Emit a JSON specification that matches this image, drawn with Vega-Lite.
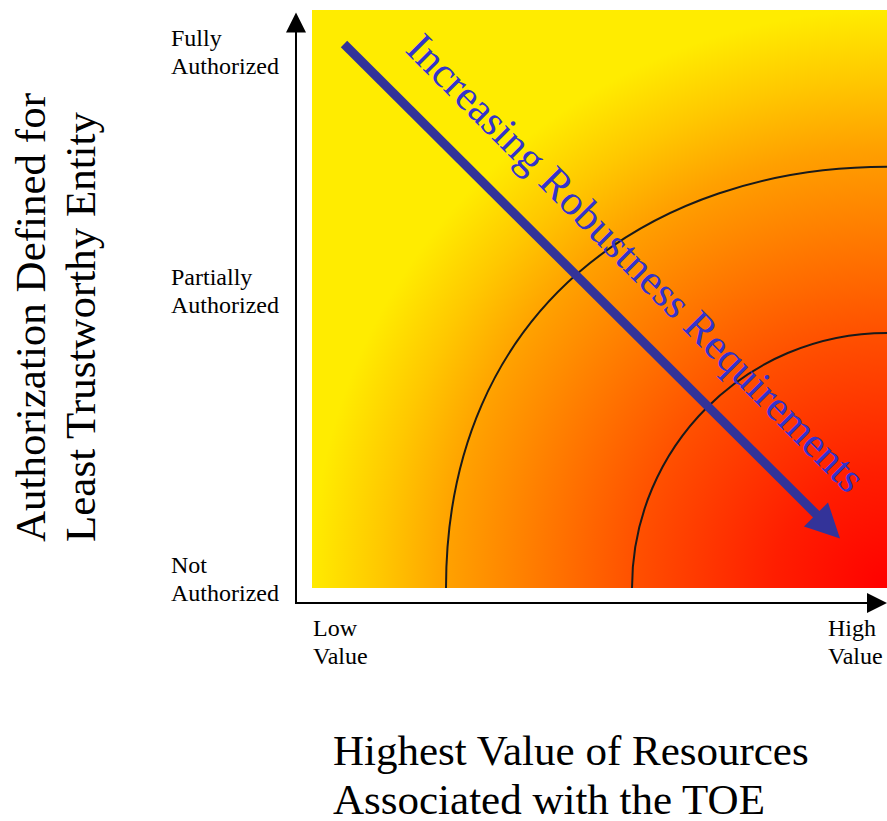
{
  "$schema": "https://vega.github.io/schema/vega-lite/v6.json",
  "width": 887,
  "height": 821,
  "autosize": {"type": "none"},
  "padding": 0,
  "background": "white",
  "config": {"view": {"stroke": null}},
  "encoding": {
    "x": {"field": "x", "type": "quantitative", "scale": {"domain": [-0.542609, 1.0], "nice": false, "zero": false}, "axis": null},
    "y": {"field": "y", "type": "quantitative", "scale": {"domain": [-0.403114, 1.017301], "nice": false, "zero": false}, "axis": null}
  },
  "layer": [
    {
      "data": {"values": [{"x": 0, "y": 0, "x2": 1, "y2": 1}]},
      "mark": {
        "type": "rect",
        "fill": {
          "gradient": "radial",
          "x1": 1, "y1": 1, "r1": 0,
          "x2": 1, "y2": 1, "r2": 1.0,
          "stops": [
            {"offset": 0, "color": "#ff0000"},
            {"offset": 0.2, "color": "#ff1e00"},
            {"offset": 0.44, "color": "#ff5000"},
            {"offset": 0.6, "color": "#ff7800"},
            {"offset": 0.76, "color": "#ffa000"},
            {"offset": 0.88, "color": "#ffc800"},
            {"offset": 1, "color": "#ffec00"}
          ]
        }
      },
      "encoding": {"x2": {"field": "x2"}, "y2": {"field": "y2"}}
    },
    {
      "data": {"values": [{"x": 1, "y": 0}]},
      "mark": {"type": "point", "shape": "M -1 0 C -1 -0.631 -0.535 -0.955 0 -0.955", "size": 777924, "filled": false, "stroke": "#1a1a1a", "strokeWidth": 2, "opacity": 1}
    },
    {
      "data": {"values": [{"x": 1, "y": 0}]},
      "mark": {"type": "point", "shape": "M -1 0 A 1 1 0 0 1 0 -1", "size": 260100, "filled": false, "stroke": "#1a1a1a", "strokeWidth": 2, "opacity": 1}
    },
    {
      "data": {"values": [
        {"x": -0.02783, "y": -0.02595, "x2": -0.02783, "y2": 0.9654},
        {"x": -0.02783, "y": -0.02595, "x2": 0.97043, "y2": -0.02595}
      ]},
      "mark": {"type": "rule", "stroke": "black", "strokeWidth": 2, "strokeCap": "square"},
      "encoding": {"x2": {"field": "x2"}, "y2": {"field": "y2"}}
    },
    {
      "data": {"values": [{"x": -0.02783, "y": 0.97837}]},
      "mark": {"type": "point", "shape": "M 0 -1 L 1 1 L -1 1 Z", "size": 400, "filled": true, "fill": "black", "stroke": null, "opacity": 1, "angle": 0}
    },
    {
      "data": {"values": [{"x": 0.98261, "y": -0.02595}]},
      "mark": {"type": "point", "shape": "M 0 -1 L 1 1 L -1 1 Z", "size": 400, "filled": true, "fill": "black", "stroke": null, "opacity": 1, "angle": 90}
    },
    {
      "data": {"values": [{"x": 0.05565, "y": 0.94118, "x2": 0.88, "y2": 0.12457}]},
      "mark": {"type": "rule", "stroke": "#333399", "strokeWidth": 9, "strokeCap": "butt"},
      "encoding": {"x2": {"field": "x2"}, "y2": {"field": "y2"}}
    },
    {
      "data": {"values": [{"x": 0.89739, "y": 0.10640}]},
      "mark": {"type": "point", "shape": "M 0 -1 L 1 1 L -1 1 Z", "size": 1156, "filled": true, "fill": "#333399", "stroke": null, "opacity": 1, "angle": 135}
    },
    {
      "data": {"values": [
        {"x": -0.24522, "y": 0.93772, "label": "Fully"},
        {"x": -0.24522, "y": 0.88927, "label": "Authorized"},
        {"x": -0.24522, "y": 0.52422, "label": "Partially"},
        {"x": -0.24522, "y": 0.47578, "label": "Authorized"},
        {"x": -0.24522, "y": 0.02595, "label": "Not"},
        {"x": -0.24522, "y": -0.02249, "label": "Authorized"},
        {"x": 0.00174, "y": -0.08304, "label": "Low"},
        {"x": 0.00174, "y": -0.13149, "label": "Value"},
        {"x": 0.89739, "y": -0.08304, "label": "High"},
        {"x": 0.89739, "y": -0.13149, "label": "Value"}
      ]},
      "mark": {"type": "text", "font": "Liberation Serif", "fontSize": 24, "align": "left", "baseline": "alphabetic", "color": "black"},
      "encoding": {"text": {"field": "label"}}
    },
    {
      "data": {"values": [
        {"x": 0.03652, "y": -0.30623, "label": "Highest Value of Resources"},
        {"x": 0.03652, "y": -0.39100, "label": "Associated with the TOE"}
      ]},
      "mark": {"type": "text", "font": "Liberation Serif", "fontSize": 43, "align": "left", "baseline": "alphabetic", "color": "black"},
      "encoding": {"text": {"field": "label"}}
    },
    {
      "data": {"values": [
        {"x": -0.46435, "y": 0.07958, "label": "Authorization Defined for"},
        {"x": -0.37739, "y": 0.07958, "label": "Least Trustworthy Entity"}
      ]},
      "mark": {"type": "text", "font": "Liberation Serif", "fontSize": 43, "align": "left", "baseline": "alphabetic", "angle": 270, "color": "black"},
      "encoding": {"text": {"field": "label"}}
    },
    {
      "data": {"values": [{"x": 0.16, "y": 0.92907, "label": "Increasing Robustness Requirements"}]},
      "mark": {"type": "text", "font": "Liberation Serif", "fontSize": 42.5, "align": "left", "baseline": "alphabetic", "angle": 45, "color": "#3333cc"},
      "encoding": {"text": {"field": "label"}}
    }
  ]
}
